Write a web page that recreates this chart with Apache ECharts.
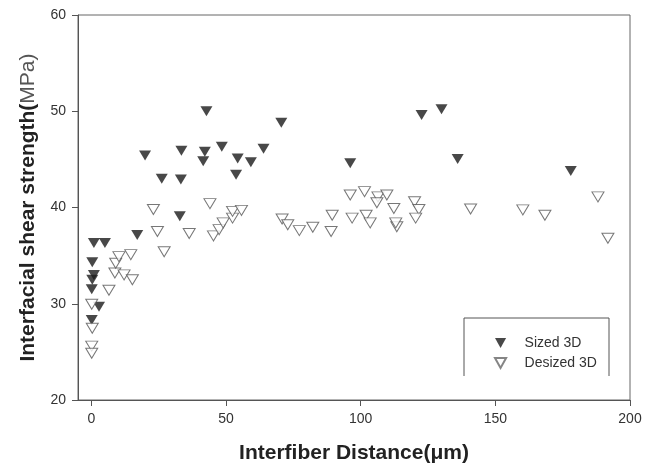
<!DOCTYPE html>
<html>
<head>
<meta charset="utf-8">
<script src="https://cdn.jsdelivr.net/npm/echarts@6/dist/echarts.min.js"></script>
<style>
  html, body { margin: 0; padding: 0; background: #fff; }
  #chart { width: 650px; height: 472px; }
</style>
</head>
<body>
<div id="chart"></div>
<script>
  // interfiber distance (um), IFSS (MPa)
  var sizedData = [
    [0.1, 28.3], [0.1, 31.5], [0.3, 32.5], [0.9, 33.0], [0.3, 34.3], [0.9, 36.3],
    [2.8, 29.7], [5.0, 36.3], [17.0, 37.15], [19.9, 45.4], [26.1, 43.0], [33.4, 45.9],
    [33.2, 42.9], [32.8, 39.1], [42.1, 45.8], [41.5, 44.8], [42.7, 50.0], [48.4, 46.3],
    [54.3, 45.1], [53.7, 43.4], [59.2, 44.7], [63.9, 46.1], [70.5, 48.8], [96.1, 44.6],
    [122.6, 49.6], [130.0, 50.2], [136.0, 45.05], [178.0, 43.8]
  ];
  var desizedData = [
    [0.1, 29.95], [0.3, 27.45], [0.1, 25.6], [0.1, 24.85], [6.5, 31.4], [8.7, 33.2],
    [9.0, 34.2], [10.2, 34.9], [12.1, 33.0], [14.6, 35.1], [15.2, 32.5], [23.0, 39.8],
    [24.5, 37.5], [27.0, 35.4], [36.3, 37.3], [44.0, 40.4], [45.3, 37.05], [47.4, 37.7],
    [48.9, 38.4], [52.4, 38.9], [52.4, 39.6], [55.7, 39.7], [70.8, 38.8], [72.9, 38.2],
    [77.2, 37.6], [82.2, 37.95], [89.4, 39.2], [89.0, 37.5], [96.1, 41.3], [96.8, 38.9],
    [101.4, 41.65], [102.0, 39.2], [103.5, 38.4], [106.4, 41.1], [106.0, 40.5], [109.7, 41.3],
    [112.3, 39.9], [113.4, 38.0], [113.0, 38.4], [120.0, 40.6], [121.6, 39.8], [120.4, 38.9],
    [140.8, 39.85], [160.2, 39.75], [168.4, 39.2], [188.1, 41.1], [191.8, 36.8]
  ];
  var seriesNames = ['Sized 3D', 'Desized 3D'];
  var xTicks = [0, 50, 100, 150, 200];

  var font = 'Liberation Sans, Arial, sans-serif';
  var downTri = 'path://M0,0L10,0L5,9Z';

  var myChart = echarts.init(document.getElementById('chart'));
  myChart.setOption({
    animation: false,
    grid: {
      left: 78, right: 20, top: 15, bottom: 72,
      show: true, borderColor: '#666', borderWidth: 1
    },
    legend: {
      orient: 'vertical',
      left: 489,
      top: 331,
      itemWidth: 12,
      itemHeight: 10,
      itemGap: 6,
      textStyle: { fontFamily: font, fontSize: 14, color: '#333', lineHeight: 14, padding: [0, 0, 0, 13] },
      data: [
        { name: seriesNames[0], icon: downTri },
        { name: seriesNames[1], icon: downTri, itemStyle: { borderColor: '#666' } }
      ]
    },
    graphic: [{
      type: 'polyline',
      shape: { points: [[464, 376], [464, 318], [609, 318], [609, 376]] },
      style: { stroke: '#555', lineWidth: 1, fill: null },
      z: 10
    }],
    xAxis: {
      type: 'value',
      min: -5,
      max: 200,
      name: 'Interfiber Distance(\u03bcm)',
      nameLocation: 'middle',
      nameGap: 43,
      nameTextStyle: { fontFamily: font, fontSize: 21, fontWeight: 'bold', color: '#222' },
      axisLine: { onZero: false, lineStyle: { color: '#555' } },
      axisTick: { show: true, length: 6, lineStyle: { color: '#555' }, customValues: xTicks },
      axisLabel: { fontFamily: font, fontSize: 14, color: '#333', margin: 12, customValues: xTicks },
      splitLine: { show: false }
    },
    yAxis: {
      type: 'value',
      min: 20,
      max: 60,
      interval: 10,
      name: '{b|Interfacial shear strength(}{n|MPa)}',
      nameLocation: 'middle',
      nameRotate: 90,
      nameGap: 39,
      nameTextStyle: {
        rich: {
          b: { fontFamily: font, fontSize: 21, fontWeight: 'bold', color: '#222' },
          n: { fontFamily: font, fontSize: 21, color: '#555' }
        }
      },
      axisLine: { show: true, onZero: false, lineStyle: { color: '#555' } },
      axisTick: { show: true, length: 6, lineStyle: { color: '#555' } },
      axisLabel: { fontFamily: font, fontSize: 14, color: '#333', margin: 12 },
      splitLine: { show: false }
    },
    series: [
      {
        name: seriesNames[0],
        type: 'scatter',
        symbol: 'triangle',
        symbolRotate: 180,
        symbolSize: [12, 10],
        itemStyle: { color: '#1a1a1a' },
        data: sizedData
      },
      {
        name: seriesNames[1],
        type: 'scatter',
        symbol: 'triangle',
        symbolRotate: 180,
        symbolSize: [12, 10],
        itemStyle: { color: '#fff', borderColor: '#555', borderWidth: 1 },
        data: desizedData
      }
    ]
  });
</script>
</body>
</html>
